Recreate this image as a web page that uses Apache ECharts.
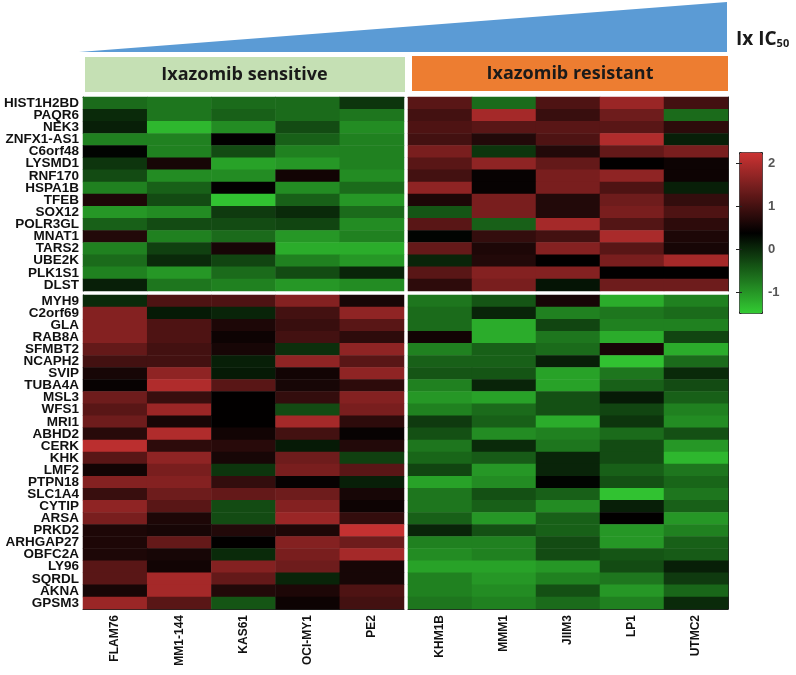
<!DOCTYPE html>
<html><head><meta charset="utf-8">
<script src="https://cdn.jsdelivr.net/npm/echarts@6/dist/echarts.min.js"></script>
<style>html,body{margin:0;padding:0;background:#fff}#c{width:796px;height:675px}</style>
</head><body><div id="c"></div>
<script>
// ---------- data ----------
const sensitiveLines = ['FLAM76','MM1-144','KAS61','OCI-MY1','PE2'];
const resistantLines = ['KHM1B','MMM1','JIIM3','LP1','UTMC2'];

const upGenes = ['HIST1H2BD','PAQR6','NEK3','ZNFX1-AS1','C6orf48','LYSMD1','RNF170','HSPA1B',
  'TFEB','SOX12','POLR3GL','MNAT1','TARS2','UBE2K','PLK1S1','DLST'];
const downGenes = ['MYH9','C2orf69','GLA','RAB8A','SFMBT2','NCAPH2','SVIP','TUBA4A','MSL3','WFS1',
  'MRI1','ABHD2','CERK','KHK','LMF2','PTPN18','SLC1A4','CYTIP','ARSA','PRKD2','ARHGAP27',
  'OBFC2A','LY96','SQRDL','AKNA','GPSM3'];

// rows = genes, columns = cell lines
const upSensitive = [
  [-0.6,-0.7,-0.6,-0.6,-0.1],
  [0.0,-0.7,-0.5,-0.6,-0.7],
  [0.1,-1.3,-0.9,-0.3,-0.9],
  [-0.8,-0.8,0.4,-0.5,-0.8],
  [0.35,-0.8,-0.3,-0.8,-0.8],
  [-0.1,0.6,-1.1,-1.0,-0.8],
  [-0.3,-0.9,-0.9,0.55,-0.9],
  [-0.8,-0.5,0.4,-0.9,-0.6],
  [0.65,-0.3,-1.4,-0.5,-1.0],
  [-1.0,-0.9,-0.15,0.0,-0.6],
  [-0.5,-0.3,-0.3,-0.25,-0.9],
  [0.7,-0.8,-0.6,-1.0,-0.8],
  [-0.8,-0.2,0.6,-1.2,-1.2],
  [-0.6,0.0,-0.25,-0.8,-1.0],
  [-0.8,-1.0,-0.6,-0.3,0.05],
  [0.1,-0.7,-0.8,-1.0,-0.9]
];
const upResistant = [
  [1.2,-0.6,1.1,1.8,1.0],
  [1.0,1.9,0.9,1.4,-0.6],
  [1.1,1.2,1.2,1.2,0.8],
  [1.0,0.7,1.1,2.0,0.1],
  [1.5,-0.1,0.7,1.3,1.5],
  [1.2,1.7,1.3,0.4,0.5],
  [1.0,0.45,1.5,1.7,0.5],
  [1.7,0.45,1.5,1.1,0.1],
  [0.65,1.5,0.7,1.4,0.85],
  [-0.4,1.5,0.7,1.5,1.1],
  [1.2,-0.5,1.9,1.15,0.8],
  [0.35,0.85,1.0,1.95,0.65],
  [1.3,0.65,1.6,1.2,0.6],
  [0.05,0.7,0.4,1.5,1.9],
  [1.2,1.6,1.6,0.4,0.4],
  [0.8,1.5,0.2,1.4,1.4]
];
const downSensitive = [
  [0.0,1.1,1.1,1.6,0.6],
  [1.6,0.15,0.05,1.0,1.7],
  [1.6,1.1,0.65,0.9,1.2],
  [1.6,1.1,0.5,1.0,0.8],
  [1.3,1.0,0.6,-0.05,1.7],
  [1.0,1.0,0.1,1.7,1.2],
  [0.6,1.7,0.15,0.55,1.7],
  [0.45,2.0,1.2,0.6,0.8],
  [1.4,0.9,0.4,0.85,1.6],
  [1.2,1.8,0.4,-0.3,1.5],
  [1.4,0.6,0.4,1.9,0.8],
  [0.75,2.0,0.55,1.0,0.45],
  [2.1,0.8,0.75,0.15,0.7],
  [1.2,1.7,0.6,1.4,-0.2],
  [0.55,1.5,-0.1,1.5,1.2],
  [1.6,1.6,0.85,0.45,0.1],
  [0.9,1.4,1.3,1.4,0.6],
  [1.7,1.2,-0.3,1.6,0.5],
  [1.5,0.65,-0.3,1.8,0.85],
  [0.65,0.6,0.7,0.65,2.2],
  [0.65,1.3,0.4,1.6,1.4],
  [0.65,0.6,0.0,1.5,1.9],
  [1.2,0.55,1.6,1.4,0.6],
  [1.2,1.9,1.3,0.05,0.6],
  [0.6,1.9,0.7,0.65,1.1],
  [1.8,1.2,-0.4,0.5,1.0]
];
const downResistant = [
  [-0.7,-0.4,0.6,-1.2,-0.8],
  [-0.6,0.05,-0.8,-0.7,-0.6],
  [-0.6,-1.2,-0.25,-0.8,-0.8],
  [0.55,-1.2,-0.7,-1.2,-0.25],
  [-0.8,-0.5,-0.6,0.6,-1.2],
  [-0.5,-0.5,0.1,-1.4,-0.6],
  [-0.4,-0.4,-1.1,-0.7,0.0],
  [-0.8,0.05,-1.1,-0.5,-0.3],
  [-1.0,-1.1,-0.35,0.15,-0.5],
  [-0.8,-0.6,-0.35,-0.25,-0.8],
  [-0.15,-0.5,-1.2,-0.1,-0.9],
  [-0.35,-0.9,-0.8,-0.6,-0.35],
  [-0.7,0.0,-0.7,-0.3,-1.0],
  [-0.55,-0.45,0.05,-0.3,-1.3],
  [-0.25,-1.0,0.05,-0.5,-0.7],
  [-1.1,-0.9,0.35,-0.35,-0.55],
  [-0.7,-0.35,-0.5,-1.4,-0.7],
  [-0.7,-0.5,-0.9,0.1,-0.5],
  [-0.5,-1.0,-0.5,0.4,-1.0],
  [0.05,-0.35,-0.5,-1.0,-0.8],
  [-0.8,-0.8,-0.3,-1.0,-0.5],
  [-0.9,-0.8,-0.3,-0.4,-0.45],
  [-1.1,-1.1,-1.0,-0.3,0.1],
  [-0.8,-1.0,-0.8,-0.7,-0.15],
  [-0.8,-0.9,-0.35,-1.0,-0.55],
  [-0.7,-0.8,-0.6,-0.8,0.0]
];

const colorbarTicks = [-1, 0, 1, 2];
const scaleMin = -1.49, scaleMax = 2.26;
const groupLabels = ['Ixazomib sensitive', 'Ixazomib resistant'];

// ---------- layout ----------
const HM = { left: 83, right: 728, top: 97, bottom: 609, colSplit: 404, colGap: 4, rowSplit: 291, rowGap: 4 };
const CB = { left: 739, top: 152, width: 23, height: 161 };
const FONT = '"Liberation Sans", Arial, sans-serif';
const HFONT = '"Open Sans", "Liberation Sans", sans-serif';

function cells(matrix) {
  const out = [];
  matrix.forEach((row, r) => row.forEach((v, c) => out.push([c, r, v])));
  return out;
}

const gL = { left: HM.left, width: HM.colSplit - HM.left };
const gR = { left: HM.colSplit + HM.colGap, width: HM.right - HM.colSplit - HM.colGap };
const gT = { top: HM.top, height: HM.rowSplit - HM.top };
const gB = { top: HM.rowSplit + HM.rowGap, height: HM.bottom - HM.rowSplit - HM.rowGap };

const grids = [
  { left: gL.left, width: gL.width, top: gT.top, height: gT.height },
  { left: gR.left, width: gR.width, top: gT.top, height: gT.height },
  { left: gL.left, width: gL.width, top: gB.top, height: gB.height },
  { left: gR.left, width: gR.width, top: gB.top, height: gB.height },
  { left: CB.left, width: CB.width, top: CB.top, height: CB.height }
];

const frameLine = { show: true, lineStyle: { color: '#222', width: 1 } };

function xCat(gi, data, pos, labels) {
  return {
    type: 'category', gridIndex: gi, data: data, position: pos,
    axisLine: frameLine, axisTick: { show: false },
    splitLine: { show: false },
    axisLabel: labels ? {
      show: true, interval: 0, rotate: 90, margin: 6,
      fontSize: 12, fontWeight: 'bold', color: '#111', fontFamily: FONT
    } : { show: false }
  };
}
function yCat(gi, data, pos, labels) {
  return {
    type: 'category', gridIndex: gi, data: data, position: pos, inverse: true,
    axisLine: frameLine, axisTick: { show: false },
    splitLine: { show: false },
    axisLabel: labels ? {
      show: true, interval: 0, margin: 4,
      fontSize: 13.5, fontWeight: 'bold', color: '#111', fontFamily: FONT
    } : { show: false }
  };
}

const option = {
  backgroundColor: '#fff',
  animation: false,
  grid: grids,
  xAxis: [
    xCat(0, sensitiveLines, 'top', false),
    xCat(1, resistantLines, 'top', false),
    xCat(2, sensitiveLines, 'bottom', true),
    xCat(3, resistantLines, 'bottom', true),
    { type: 'value', gridIndex: 4, show: false, min: 0, max: 1 }
  ],
  yAxis: [
    yCat(0, upGenes, 'left', true),
    yCat(1, upGenes, 'right', false),
    yCat(2, downGenes, 'left', true),
    yCat(3, downGenes, 'right', false),
    {
      type: 'value', gridIndex: 4, position: 'right', min: scaleMin, max: scaleMax, z: 10,
      axisLine: { show: false }, splitLine: { show: false },
      axisTick: { show: true, inside: true, length: 3, customValues: colorbarTicks, lineStyle: { color: '#222' } },
      axisLabel: { show: true, customValues: colorbarTicks, margin: 6, fontSize: 13, fontWeight: 'bold', color: '#555', fontFamily: FONT }
    },
    {
      type: 'value', gridIndex: 4, position: 'left', min: scaleMin, max: scaleMax, z: 10,
      axisLine: { show: false }, splitLine: { show: false },
      axisTick: { show: true, inside: true, length: 3, customValues: colorbarTicks, lineStyle: { color: '#222' } },
      axisLabel: { show: false }
    }
  ],
  visualMap: {
    type: 'continuous', min: scaleMin, max: scaleMax, seriesIndex: [0, 1, 2, 3],
    calculable: false, hoverLink: false,
    left: CB.left, top: CB.top, itemWidth: CB.width, itemHeight: CB.height,
    padding: 0, borderColor: '#222', borderWidth: 1,
    inRange: { color: ['#33cc33', '#000000', '#cc3333'] }
  },
  series: [
    { type: 'heatmap', xAxisIndex: 0, yAxisIndex: 0, data: cells(upSensitive) },
    { type: 'heatmap', xAxisIndex: 1, yAxisIndex: 1, data: cells(upResistant) },
    { type: 'heatmap', xAxisIndex: 2, yAxisIndex: 2, data: cells(downSensitive) },
    { type: 'heatmap', xAxisIndex: 3, yAxisIndex: 3, data: cells(downResistant) }
  ],
  graphic: [
    { type: 'polygon', z: 1, shape: { points: [[HM.left - 4, 52], [HM.right - 1, 2], [HM.right - 1, 52]] }, style: { fill: '#5b9bd5' } },
    { type: 'rect', z: 1, shape: { x: HM.left + 2, y: 57, width: HM.colSplit - HM.left - 1, height: 35 }, style: { fill: '#c5e0b4' } },
    { type: 'rect', z: 1, shape: { x: HM.colSplit + 8, y: 56, width: HM.right - HM.colSplit - 8, height: 35 }, style: { fill: '#ed7d31' } },
    { type: 'text', z: 2, x: (HM.left + HM.colSplit) / 2 + 1, y: 75,
      style: { text: groupLabels[0], font: 'bold 18px ' + HFONT, fill: '#1a1a1a', align: 'center', verticalAlign: 'middle', textAlign: 'center', textVerticalAlign: 'middle' } },
    { type: 'text', z: 2, x: (HM.colSplit + 8 + HM.right) / 2, y: 74,
      style: { text: groupLabels[1], font: 'bold 18px ' + HFONT, fill: '#1a1a1a', align: 'center', verticalAlign: 'middle', textAlign: 'center', textVerticalAlign: 'middle' } },
    { type: 'text', z: 2, x: 736, y: 40,
      style: {
        text: '{a|Ix IC}{b|50}', align: 'left', verticalAlign: 'middle', textAlign: 'left', textVerticalAlign: 'middle',
        rich: {
          a: { font: 'bold 19px ' + HFONT, fill: '#1a1a1a', color: '#1a1a1a' },
          b: { font: 'bold 11px ' + HFONT, fill: '#1a1a1a', color: '#1a1a1a', verticalAlign: 'bottom' }
        }
      } }
  ]
};

const chart = echarts.init(document.getElementById('c'), null, { renderer: 'canvas' });
chart.setOption(option);
</script>
</body></html>
